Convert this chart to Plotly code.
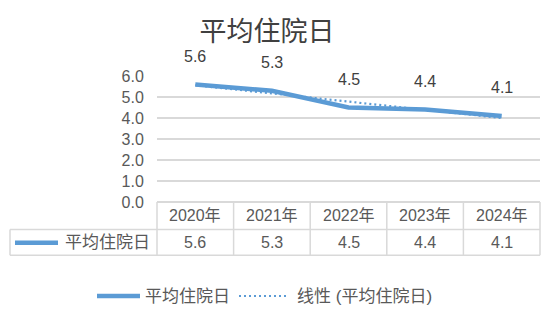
import numpy as np
import plotly.graph_objects as go

# ---- data ----
categories = ["2020年", "2021年", "2022年", "2023年", "2024年"]
values = [5.6, 5.3, 4.5, 4.4, 4.1]
series_name = "平均住院日"
trend_name = "线性 (平均住院日)"
y_ticks = [0, 1, 2, 3, 4, 5, 6]

# linear trendline (least squares, like Excel's linear trendline)
xi = np.arange(1, len(values) + 1)
slope, intercept = np.polyfit(xi, values, 1)
trend = list(slope * xi + intercept)

BLUE = "#5B9BD5"
GRID = "#D9D9D9"
TXT = "#595959"
DARK = "#404040"
FONT = "Liberation Sans, Noto Sans CJK SC, sans-serif"

W, H = 558, 326
L, R, T, B = 157, 18, 75.7, 124.3
PW = W - L - R
PH = H - T - B


def px(xpix):
    return (xpix - L) / PW


def py(ypix):
    return (H - B - ypix) / PH


fig = go.Figure()
fig.add_trace(go.Scatter(x=categories, y=values, mode="lines", name=series_name,
                         line=dict(color=BLUE, width=4.5), showlegend=False,
                         hoverinfo="skip"))
fig.add_trace(go.Scatter(x=categories, y=trend, mode="lines", name=trend_name,
                         line=dict(color=BLUE, width=2.2, dash="2px,3px"), showlegend=False,
                         hoverinfo="skip"))

annotations = []
shapes = []

# data labels
for c, v in zip(categories, values):
    annotations.append(dict(x=c, y=v, xref="x", yref="y", text=f"{v:.1f}",
                            showarrow=False, yshift=28,
                            font=dict(size=16, color=DARK, family=FONT)))

# data table
n = len(categories)
row1 = py(229.3)
row2 = py(255.0)
row1_mid = py(215.5)
row2_mid = py(242.5)
x_left = px(10)
lc = dict(color=GRID, width=1.5)
for i in range(n + 1):
    shapes.append(dict(type="line", xref="paper", yref="paper", x0=i / n, x1=i / n,
                       y0=0, y1=row2, line=lc))
shapes.append(dict(type="line", xref="paper", yref="paper", x0=x_left, x1=1,
                   y0=row1, y1=row1, line=lc))
shapes.append(dict(type="line", xref="paper", yref="paper", x0=x_left, x1=1,
                   y0=row2, y1=row2, line=lc))
shapes.append(dict(type="line", xref="paper", yref="paper", x0=x_left, x1=x_left,
                   y0=row1, y1=row2, line=lc))
for c, v in zip(categories, values):
    annotations.append(dict(x=c, y=row1_mid, xref="x", yref="paper", text=c,
                            showarrow=False, yanchor="middle",
                            font=dict(size=16, color=TXT, family=FONT)))
    annotations.append(dict(x=c, y=row2_mid, xref="x", yref="paper", text=f"{v:.1f}",
                            showarrow=False, yanchor="middle",
                            font=dict(size=16, color=TXT, family=FONT)))
# legend key in table row
shapes.append(dict(type="line", xref="paper", yref="paper", x0=px(15), x1=px(58),
                   y0=row2_mid, y1=row2_mid, line=dict(color=BLUE, width=4.5)))
annotations.append(dict(x=px(63), y=row2_mid, xref="paper", yref="paper",
                        text=series_name, showarrow=False, xanchor="left",
                        yanchor="middle", font=dict(size=17, color=TXT, family=FONT)))

# bottom legend
ly = py(295.7)
shapes.append(dict(type="line", xref="paper", yref="paper", x0=px(97), x1=px(140),
                   y0=ly, y1=ly, line=dict(color=BLUE, width=4.5)))
annotations.append(dict(x=px(143), y=ly, xref="paper", yref="paper", text=series_name,
                        showarrow=False, xanchor="left", yanchor="middle",
                        font=dict(size=17, color=TXT, family=FONT)))
shapes.append(dict(type="line", xref="paper", yref="paper", x0=px(239), x1=px(288),
                   y0=ly, y1=ly, line=dict(color=BLUE, width=2.2, dash="2px,3px")))
annotations.append(dict(x=px(295), y=ly, xref="paper", yref="paper", text=trend_name,
                        showarrow=False, xanchor="left", yanchor="middle",
                        font=dict(size=17, color=TXT, family=FONT)))

fig.update_layout(
    width=W, height=H,
    margin=dict(l=L, r=R, t=T, b=B, pad=0),
    paper_bgcolor="white", plot_bgcolor="white",
    title=dict(text=series_name, x=267 / W, xanchor="center", y=1 - 32 / H,
               yanchor="middle", font=dict(size=27, color=DARK, family=FONT)),
    xaxis=dict(type="category", categoryarray=categories, range=[-0.5, n - 0.5],
               showticklabels=False, showgrid=False, zeroline=False, showline=False,
               ticks=""),
    yaxis=dict(range=[0, 6], tickvals=y_ticks, tickformat=".1f", showgrid=True,
               gridcolor=GRID, gridwidth=1.5, zeroline=True, zerolinecolor=GRID,
               zerolinewidth=1.5, showline=False, ticks="outside", ticklen=9,
               tickcolor="rgba(0,0,0,0)",
               tickfont=dict(size=16, color=TXT, family=FONT)),
    showlegend=False,
    shapes=shapes,
    annotations=annotations,
)

fig.write_html("out.html")
